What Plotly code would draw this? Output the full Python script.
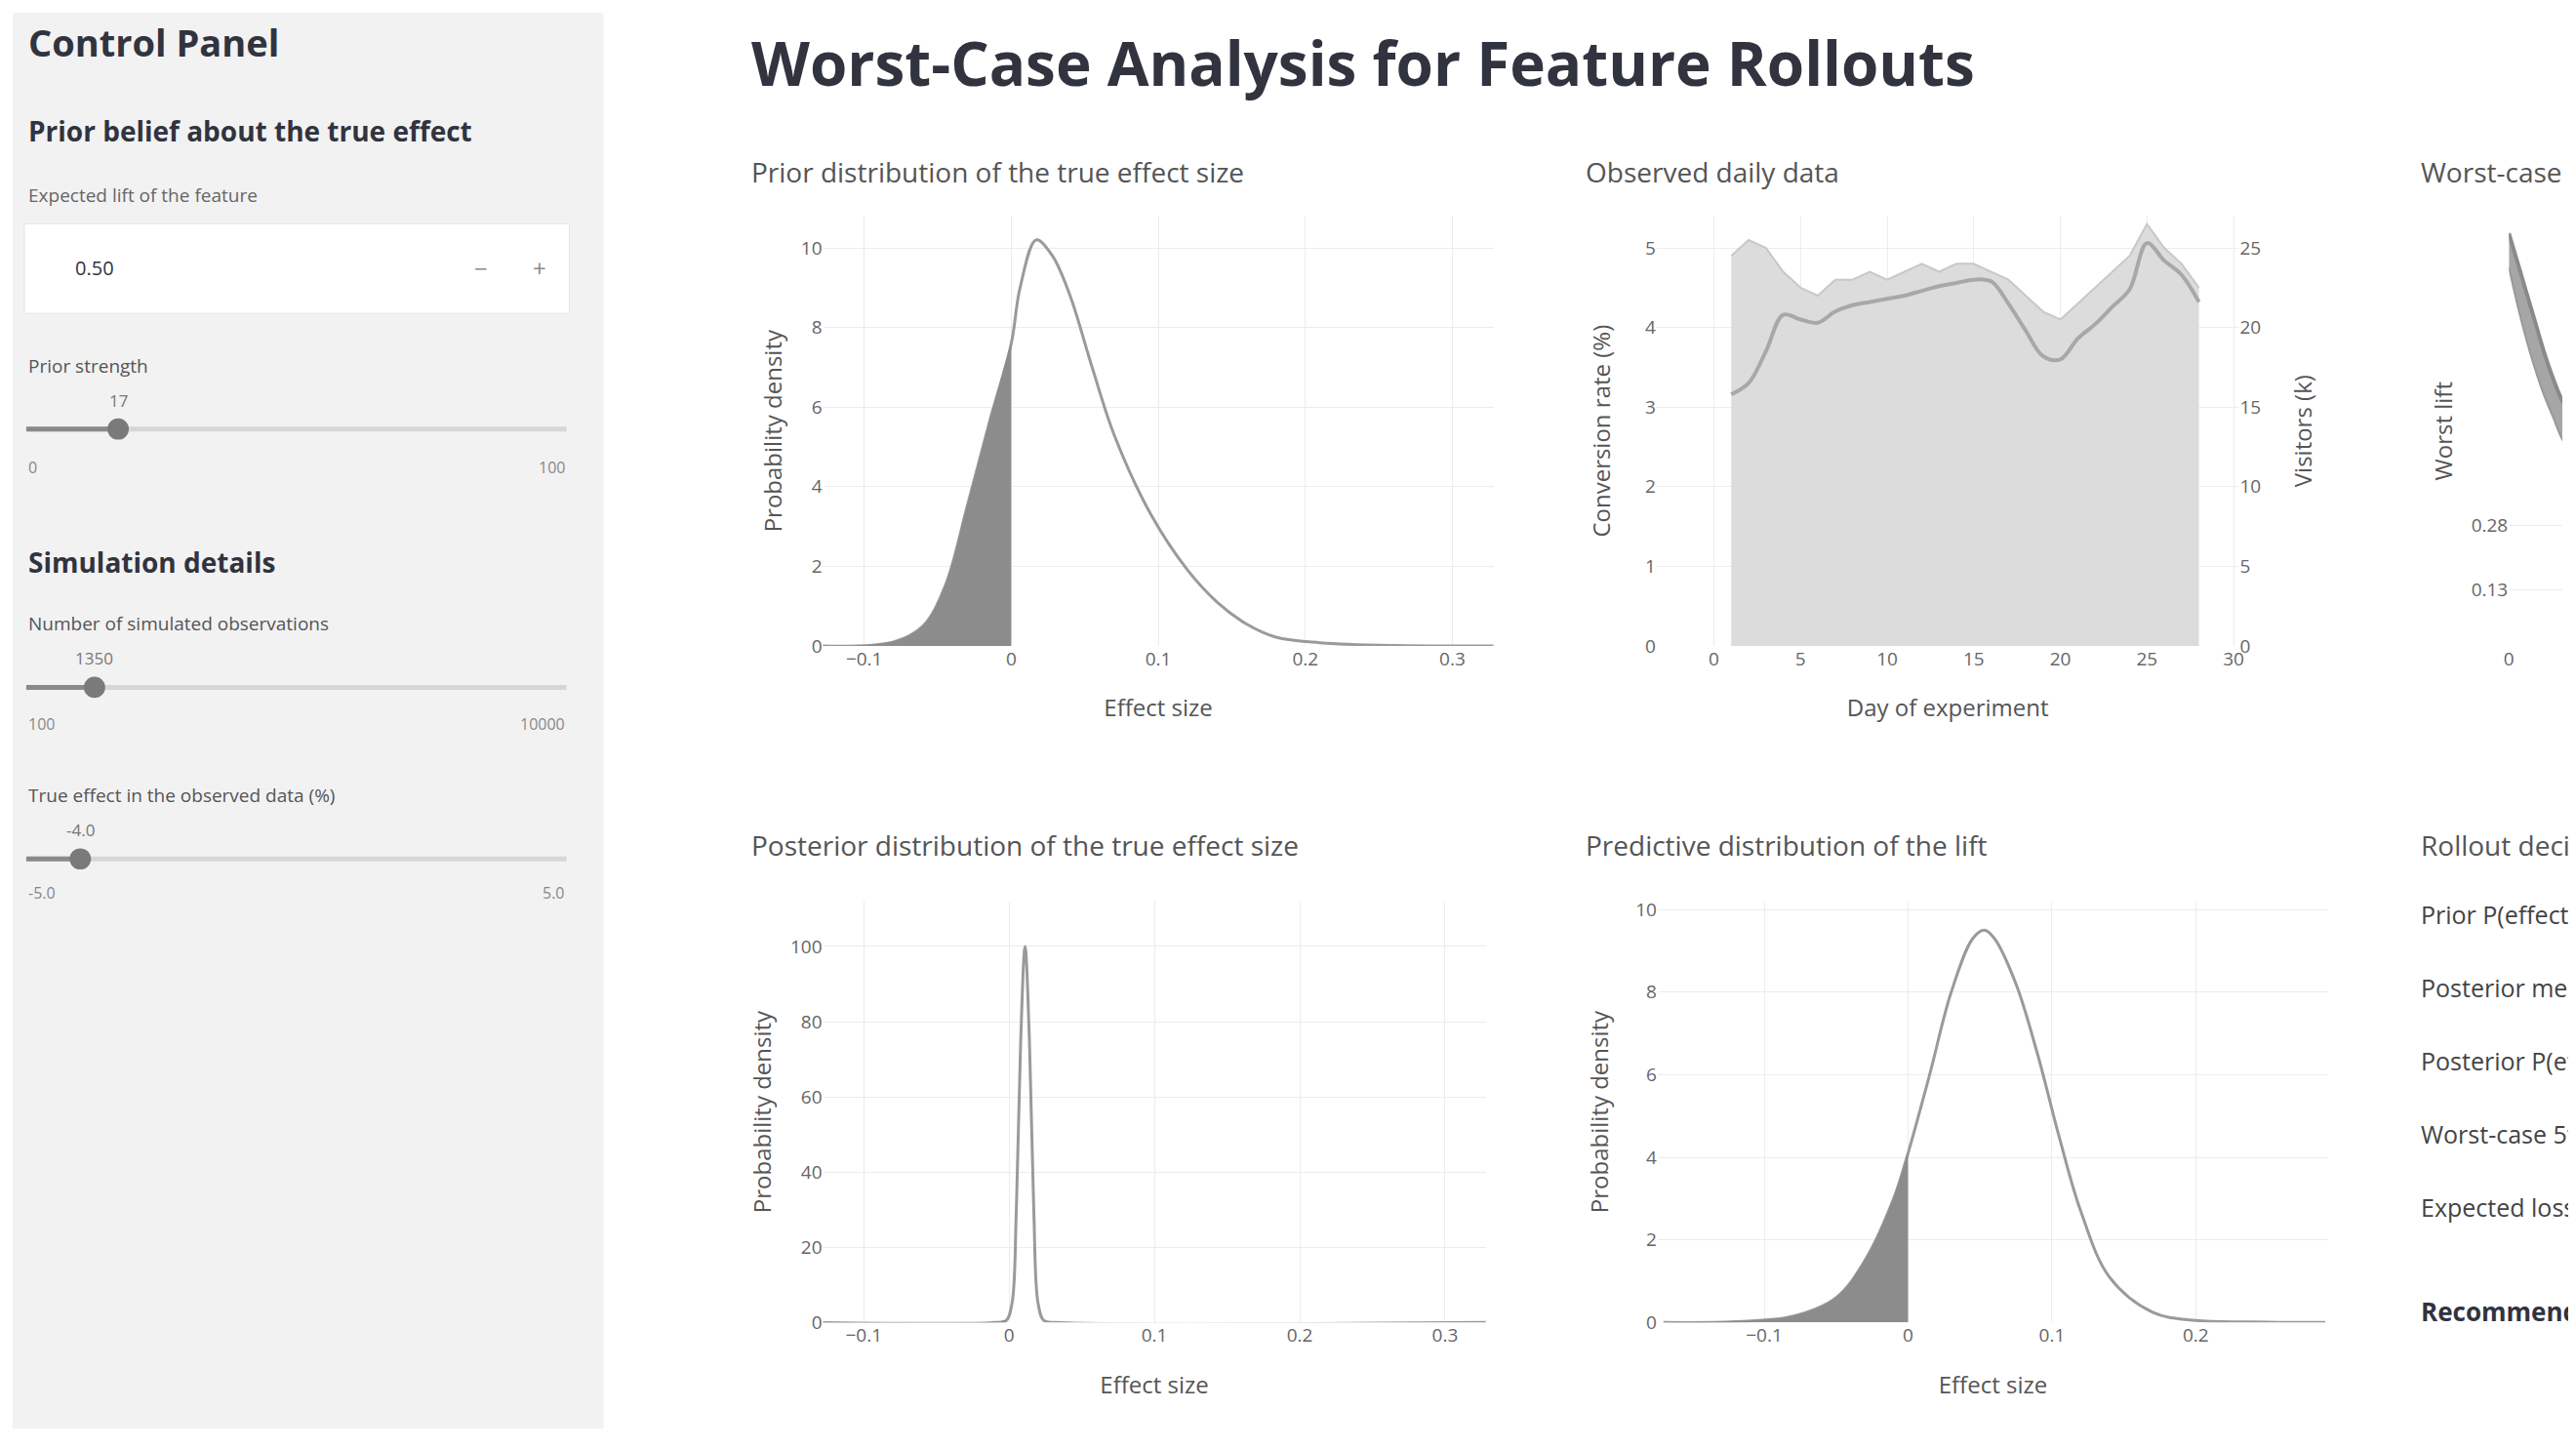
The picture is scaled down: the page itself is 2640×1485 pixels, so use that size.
import plotly.graph_objects as go

# page body keeps its 8px margin, so the figure is a bit smaller than the window
OFF = 8
W, H = 2640 - 2 * OFF, 1485 - 2 * OFF

# ---- data ----
prior_x = [-0.13, -0.08, -0.06, -0.045, -0.03, -0.015, 0.0, 0.006, 0.017, 0.028, 0.04,
           0.055, 0.07, 0.095, 0.12, 0.14, 0.16, 0.18, 0.21, 0.26, 0.33]
prior_y = [0, 0.1, 0.5, 1.5, 3.5, 5.6, 7.6, 9.0, 10.2, 9.8, 8.8,
           7.0, 5.3, 3.3, 1.9, 1.1, 0.55, 0.22, 0.08, 0.01, 0]

days = list(range(1, 29))
daily_rate = [4.9, 5.1, 5.0, 4.7, 4.5, 4.4, 4.6, 4.6, 4.7, 4.6, 4.7, 4.8, 4.7, 4.8,
              4.8, 4.7, 4.6, 4.4, 4.2, 4.1, 4.3, 4.5, 4.7, 4.9, 5.3, 5.0, 4.8, 4.5]
daily_visitors = [15.8, 16.5, 18.5, 20.8, 20.5, 20.3, 21.0, 21.4, 21.6, 21.8, 22.0, 22.3, 22.6, 22.8,
                  23.0, 22.9, 21.5, 19.8, 18.2, 18.0, 19.3, 20.2, 21.3, 22.4, 25.3, 24.2, 23.3, 21.6]

strength = [0, 1, 2, 3, 4, 5, 6, 8, 10, 15, 20]
worst_hi = [0.96, 0.89, 0.82, 0.75, 0.68, 0.62, 0.57, 0.50, 0.45, 0.38, 0.34]
worst_lo = [0.88, 0.79, 0.71, 0.64, 0.58, 0.53, 0.48, 0.42, 0.38, 0.32, 0.29]

post_x = [-0.13, -0.01, -0.002, 0.002, 0.005, 0.008, 0.011, 0.014, 0.017, 0.02, 0.024, 0.033, 0.33]
post_y = [0, 0, 0.5, 5, 30, 75, 100, 75, 30, 5, 0.5, 0, 0]

pred_x = [-0.17, -0.12, -0.08, -0.05, -0.03, -0.01, 0.0, 0.015, 0.03, 0.045, 0.053, 0.06,
          0.075, 0.09, 0.105, 0.12, 0.14, 0.17, 0.2, 0.25, 0.29]
pred_y = [0, 0.02, 0.15, 0.6, 1.5, 3.0, 4.1, 6.0, 8.0, 9.3, 9.5, 9.3,
          8.2, 6.5, 4.5, 2.7, 1.1, 0.25, 0.05, 0.01, 0]

slider_names = ["Prior strength", "Number of simulated observations", "True effect in the observed data (%)"]
slider_min = [0, 100, -5.0]
slider_max = [100, 10000, 5.0]
slider_value = [17, 1350, -4.0]

summary_lines = ["Prior P(effect < 0): 31.4%",
                 "Posterior mean effect: +1.1%",
                 "Posterior P(effect < 0): 1.2%",
                 "Worst-case 5th percentile: -0.3%",
                 "Expected loss if shipped: 0.02%"]
summary_verdict = "Recommendation: ship the feature to all users"


# positions below are given in window pixels
def fx(p):
    return (p - OFF) / W


def fy(p):
    return 1 - (p - OFF) / H


TXT = "#31333f"
GRID = "#ececec"
LINE = "#9a9a9a"
SHADE = "#8c8c8c"

fig = go.Figure()


def density(xs, ys, xa, ya, cut=0.0):
    fig.add_trace(go.Scatter(x=xs, y=ys, mode="lines", line=dict(color=LINE, width=3, shape="spline"),
                             xaxis=xa, yaxis=ya, hoverinfo="skip"))
    sx = [x for x in xs if x <= cut]
    sy = [y for x, y in zip(xs, ys) if x <= cut]
    fig.add_trace(go.Scatter(x=sx, y=sy, mode="lines", fill="tozeroy", fillcolor=SHADE,
                             line=dict(color=SHADE, width=1, shape="spline"),
                             xaxis=xa, yaxis=ya, hoverinfo="skip"))


density(prior_x, prior_y, "x", "y")
fig.add_trace(go.Scatter(x=days, y=daily_rate, mode="lines", fill="tozeroy", fillcolor="#dcdcdc",
                         line=dict(color="#c8c8c8", width=2), xaxis="x2", yaxis="y2"))
fig.add_trace(go.Scatter(x=days, y=daily_visitors, mode="lines", line=dict(color="#a8a8a8", width=4, shape="spline"),
                         xaxis="x2", yaxis="y3"))
fig.add_trace(go.Scatter(x=strength, y=worst_lo, mode="lines", line=dict(color="#999", width=2, shape="spline"),
                         xaxis="x4", yaxis="y4"))
fig.add_trace(go.Scatter(x=strength, y=worst_hi, mode="lines", fill="tonexty", fillcolor="#a6a6a6",
                         line=dict(color="#8a8a8a", width=4, shape="spline"), xaxis="x4", yaxis="y4"))
density(post_x, post_y, "x5", "y5")
density(pred_x, pred_y, "x6", "y6")

tickf = dict(size=19, color="#666", family="Open Sans")
titf = dict(size=24, color="#555", family="Open Sans")
ax = dict(showgrid=True, gridcolor=GRID, zeroline=False, tickfont=tickf, ticks="", showline=False)


def xt(s):
    return dict(text=s, font=titf, standoff=30)


def yt(s, gap=12):
    return dict(text=s, font=titf, standoff=gap)


r1 = [fy(665), fy(219)]
r2 = [fy(1367), fy(930)]

fig.update_layout(
    width=W, height=H, margin=dict(l=0, r=0, t=0, b=0),
    paper_bgcolor="white", plot_bgcolor="white", showlegend=False,
    font=dict(family="Open Sans", color=TXT),
    xaxis=dict(ax, domain=[fx(842), fx(1532)], anchor="y", range=[-0.128, 0.328], dtick=0.1,
               title=xt("Effect size")),
    yaxis=dict(ax, domain=r1, anchor="x", range=[0, 10.8], dtick=2,
               title=yt("Probability density")),
    xaxis2=dict(ax, domain=[fx(1700), fx(2299)], anchor="y2", range=[-3.3, 30.3], dtick=5,
                title=xt("Day of experiment")),
    yaxis2=dict(ax, domain=r1, anchor="x2", range=[0, 5.4], dtick=1,
                title=yt("Conversion rate (%)", 28)),
    yaxis3=dict(ax, overlaying="y2", side="right", anchor="x2", range=[0, 27], dtick=5, showgrid=False,
                title=yt("Visitors (k)", 36)),
    xaxis4=dict(ax, domain=[fx(2577), 1.0], anchor="y4", range=[0, 6], tickvals=[0]),
    yaxis4=dict(ax, domain=r1, anchor="x4", range=[0, 1.0], tickvals=[0.13, 0.28],
                title=yt("Worst lift")),
    xaxis5=dict(ax, domain=[fx(842), fx(1524)], anchor="y5", range=[-0.128, 0.328], dtick=0.1,
                title=xt("Effect size")),
    yaxis5=dict(ax, domain=r2, anchor="x5", range=[0, 112], dtick=20,
                title=yt("Probability density")),
    xaxis6=dict(ax, domain=[fx(1701), fx(2391)], anchor="y6", range=[-0.174, 0.292], dtick=0.1,
                title=xt("Effect size")),
    yaxis6=dict(ax, domain=r2, anchor="x6", range=[0, 10.2], dtick=2,
                title=yt("Probability density", 20)),
)

shapes = [dict(type="rect", xref="paper", yref="paper", x0=0, x1=fx(616), y0=0, y1=1,
               fillcolor="#f2f2f2", line=dict(width=0), layer="below"),
          dict(type="rect", xref="paper", yref="paper", x0=fx(20), x1=fx(581), y0=fy(320), y1=fy(227),
               fillcolor="white", line=dict(color="#e4e4e4", width=1), layer="below")]
ann = []


def text(x, y, s, size, color=TXT, bold=False, anchor="left"):
    ann.append(dict(x=fx(x), y=fy(y), xref="paper", yref="paper", xanchor=anchor, yanchor="middle",
                    showarrow=False, text="<b>%s</b>" % s if bold else s,
                    font=dict(size=size, color=color, family="Open Sans")))


# sidebar
text(22, 38, "Control Panel", 38, bold=True)
text(22, 131, "Prior belief about the true effect", 28, bold=True)
text(22, 197, "Expected lift of the feature", 19, color="#666")
text(70, 273, "0.50", 20)
text(490, 273, "−", 24, color="#888", anchor="center")
text(550, 273, "+", 24, color="#888", anchor="center")
text(22, 578, "Simulation details", 28, bold=True)

slider_y = [(374, 440, 480), (642, 708, 746), (820, 886, 921)]
tx0, tx1 = 22, 578
for name, lo, hi, v, (ly, ty, my) in zip(slider_names, slider_min, slider_max, slider_value, slider_y):
    text(22, ly, name, 19, color="#555")
    hx = tx0 + (v - lo) / (hi - lo) * (tx1 - tx0)
    shapes.append(dict(type="line", xref="paper", yref="paper", x0=fx(tx0), x1=fx(tx1), y0=fy(ty), y1=fy(ty),
                       line=dict(color="#d6d6d6", width=5)))
    shapes.append(dict(type="line", xref="paper", yref="paper", x0=fx(tx0), x1=fx(hx), y0=fy(ty), y1=fy(ty),
                       line=dict(color="#8a8a8a", width=5)))
    shapes.append(dict(type="circle", xref="paper", yref="paper", x0=fx(hx - 11), x1=fx(hx + 11),
                       y0=fy(ty + 11), y1=fy(ty - 11), fillcolor="#7a7a7a", line=dict(width=0)))
    text(hx, ty - 30, str(v), 17, color="#777", anchor="center")
    text(22, my, str(lo), 16, color="#888")
    text(578, my, str(hi), 16, color="#888", anchor="right")

# main area
text(766, 60, "Worst-Case Analysis for Feature Rollouts", 62, bold=True)
text(766, 173, "Prior distribution of the true effect size", 28, color="#555")
text(1625, 173, "Observed daily data", 28, color="#555")
text(2484, 173, "Worst-case posterior vs. prior strength", 28, color="#555")
text(766, 872, "Posterior distribution of the true effect size", 28, color="#555")
text(1625, 872, "Predictive distribution of the lift", 28, color="#555")
text(2484, 872, "Rollout decision summary", 28, color="#555")
for i, s in enumerate(summary_lines):
    text(2484, 943 + i * 76, s, 25, color="#444")
text(2484, 1356, summary_verdict, 26, bold=True)

fig.update_layout(shapes=shapes, annotations=ann)

fig.write_html("out.html", config={"displayModeBar": False})
